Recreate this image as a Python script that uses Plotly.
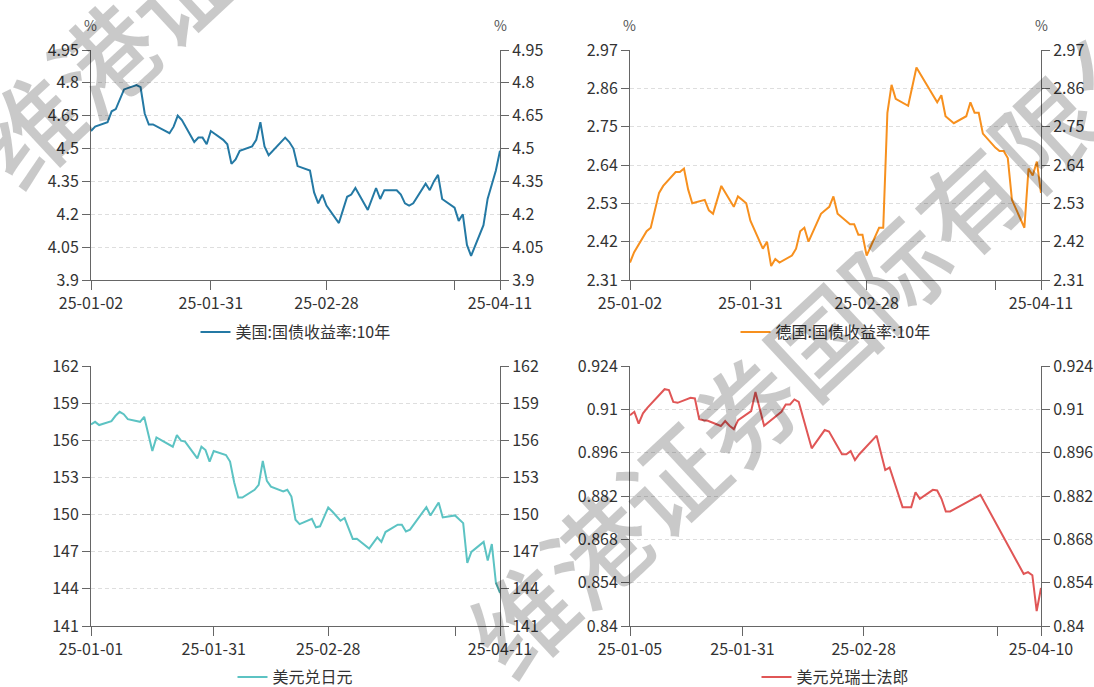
import plotly.graph_objects as go

W, H = 1094, 687

# ---------------- data ----------------
us_dates = ["2025-01-02", "2025-01-03", "2025-01-06", "2025-01-07", "2025-01-08", "2025-01-10",
            "2025-01-13", "2025-01-14", "2025-01-15", "2025-01-16", "2025-01-17", "2025-01-21",
            "2025-01-22", "2025-01-23", "2025-01-24", "2025-01-27", "2025-01-28", "2025-01-29",
            "2025-01-30", "2025-01-31", "2025-02-03", "2025-02-04", "2025-02-05", "2025-02-06",
            "2025-02-07", "2025-02-10", "2025-02-11", "2025-02-12", "2025-02-13", "2025-02-14",
            "2025-02-18", "2025-02-19", "2025-02-20", "2025-02-21", "2025-02-24", "2025-02-25",
            "2025-02-26", "2025-02-27", "2025-02-28", "2025-03-03", "2025-03-04", "2025-03-05",
            "2025-03-06", "2025-03-07", "2025-03-10", "2025-03-11", "2025-03-12", "2025-03-13",
            "2025-03-14", "2025-03-17", "2025-03-18", "2025-03-19", "2025-03-20", "2025-03-21",
            "2025-03-24", "2025-03-25", "2025-03-26", "2025-03-27", "2025-03-28", "2025-03-31",
            "2025-04-01", "2025-04-02", "2025-04-03", "2025-04-04", "2025-04-07", "2025-04-08",
            "2025-04-09", "2025-04-10", "2025-04-11"]
us_yield = [4.58, 4.60, 4.62, 4.67, 4.68, 4.77,
            4.79, 4.78, 4.66, 4.61, 4.61, 4.57,
            4.60, 4.65, 4.63, 4.53, 4.55, 4.55,
            4.52, 4.58, 4.54, 4.52, 4.43, 4.45,
            4.49, 4.51, 4.54, 4.62, 4.51, 4.47,
            4.55, 4.53, 4.50, 4.42, 4.40, 4.30,
            4.25, 4.29, 4.24, 4.16, 4.22, 4.28,
            4.29, 4.32, 4.22, 4.27, 4.32, 4.27,
            4.31, 4.31, 4.29, 4.25, 4.24, 4.25,
            4.34, 4.31, 4.35, 4.38, 4.27, 4.23,
            4.17, 4.20, 4.06, 4.01, 4.15, 4.27,
            4.34, 4.40, 4.49]

de_dates = ["2025-01-02", "2025-01-03", "2025-01-06", "2025-01-07", "2025-01-08", "2025-01-09",
            "2025-01-10", "2025-01-13", "2025-01-14", "2025-01-15", "2025-01-16", "2025-01-17",
            "2025-01-20", "2025-01-21", "2025-01-22", "2025-01-23", "2025-01-24", "2025-01-27",
            "2025-01-28", "2025-01-29", "2025-01-30", "2025-01-31", "2025-02-03", "2025-02-04",
            "2025-02-05", "2025-02-06", "2025-02-07", "2025-02-10", "2025-02-11", "2025-02-12",
            "2025-02-13", "2025-02-14", "2025-02-17", "2025-02-18", "2025-02-19", "2025-02-20",
            "2025-02-21", "2025-02-24", "2025-02-25", "2025-02-26", "2025-02-27", "2025-02-28",
            "2025-03-03", "2025-03-04", "2025-03-05", "2025-03-06", "2025-03-07", "2025-03-10",
            "2025-03-11", "2025-03-12", "2025-03-13", "2025-03-14", "2025-03-17", "2025-03-18",
            "2025-03-19", "2025-03-20", "2025-03-21", "2025-03-24", "2025-03-25", "2025-03-26",
            "2025-03-27", "2025-03-28", "2025-03-31", "2025-04-01", "2025-04-02", "2025-04-03",
            "2025-04-04", "2025-04-07", "2025-04-08", "2025-04-09", "2025-04-10", "2025-04-11"]
de_yield = [2.36, 2.39, 2.45, 2.46, 2.51, 2.56,
            2.58, 2.62, 2.62, 2.63, 2.57, 2.53,
            2.54, 2.51, 2.50, 2.54, 2.58, 2.52,
            2.55, 2.54, 2.53, 2.48, 2.40, 2.42,
            2.35, 2.37, 2.36, 2.38, 2.40, 2.45,
            2.46, 2.42, 2.50, 2.51, 2.52, 2.55,
            2.50, 2.47, 2.47, 2.44, 2.44, 2.38,
            2.46, 2.46, 2.79, 2.87, 2.83, 2.81,
            2.87, 2.92, 2.90, 2.88, 2.82, 2.84,
            2.78, 2.77, 2.76, 2.78, 2.82, 2.79,
            2.79, 2.73, 2.69, 2.68, 2.68, 2.66,
            2.54, 2.46, 2.63, 2.61, 2.65, 2.56]

jpy_dates = ["2025-01-01", "2025-01-02", "2025-01-03", "2025-01-06", "2025-01-07", "2025-01-08",
             "2025-01-09", "2025-01-10", "2025-01-13", "2025-01-14", "2025-01-16", "2025-01-17",
             "2025-01-21", "2025-01-22", "2025-01-23", "2025-01-24", "2025-01-27", "2025-01-28",
             "2025-01-29", "2025-01-30", "2025-01-31", "2025-02-03", "2025-02-04", "2025-02-05",
             "2025-02-06", "2025-02-07", "2025-02-10", "2025-02-11", "2025-02-12", "2025-02-13",
             "2025-02-14", "2025-02-17", "2025-02-18", "2025-02-19", "2025-02-20", "2025-02-21",
             "2025-02-24", "2025-02-25", "2025-02-26", "2025-02-28", "2025-03-01", "2025-03-03",
             "2025-03-04", "2025-03-06", "2025-03-07", "2025-03-10", "2025-03-12", "2025-03-13",
             "2025-03-14", "2025-03-17", "2025-03-18", "2025-03-19", "2025-03-20", "2025-03-24",
             "2025-03-25", "2025-03-27", "2025-03-28", "2025-03-31", "2025-04-02", "2025-04-03",
             "2025-04-04", "2025-04-07", "2025-04-08", "2025-04-09", "2025-04-10", "2025-04-11"]
jpy_rate = [157.28, 157.49, 157.23, 157.55, 157.98, 158.30,
            158.11, 157.71, 157.49, 157.90, 155.13, 156.23,
            155.48, 156.42, 155.97, 155.89, 154.54, 155.48,
            155.21, 154.28, 155.13, 154.81, 154.28, 152.61,
            151.38, 151.38, 152.00, 152.40, 154.33, 152.72,
            152.26, 151.86, 152.00, 151.46, 149.58, 149.23,
            149.66, 148.97, 149.05, 150.57, 150.25, 149.50,
            149.72, 148.03, 148.05, 147.25, 148.16, 147.79,
            148.59, 149.18, 149.18, 148.64, 148.78, 150.60,
            149.93, 150.98, 149.77, 149.93, 149.31, 146.10,
            146.98, 147.79, 146.28, 147.62, 144.49, 143.68]

chf_dates = ["2025-01-05", "2025-01-06", "2025-01-07", "2025-01-08", "2025-01-09", "2025-01-13",
             "2025-01-14", "2025-01-15", "2025-01-16", "2025-01-19", "2025-01-20", "2025-01-21",
             "2025-01-22", "2025-01-23", "2025-01-26", "2025-01-27", "2025-01-28", "2025-01-29",
             "2025-01-30", "2025-02-02", "2025-02-03", "2025-02-05", "2025-02-09", "2025-02-10",
             "2025-02-11", "2025-02-12", "2025-02-13", "2025-02-16", "2025-02-19", "2025-02-20",
             "2025-02-23", "2025-02-24", "2025-02-25", "2025-02-26", "2025-02-27", "2025-03-03",
             "2025-03-05", "2025-03-06", "2025-03-09", "2025-03-11", "2025-03-12", "2025-03-13",
             "2025-03-16", "2025-03-17", "2025-03-18", "2025-03-19", "2025-03-20", "2025-03-27",
             "2025-04-06", "2025-04-07", "2025-04-08", "2025-04-09", "2025-04-10"]
chf_rate = [0.9081, 0.9092, 0.9054, 0.9087, 0.9105, 0.9165,
            0.9162, 0.9124, 0.9121, 0.9137, 0.9135, 0.9068,
            0.9065, 0.9063, 0.9046, 0.9062, 0.9047, 0.9036,
            0.9065, 0.9094, 0.9156, 0.9047, 0.9092, 0.9116,
            0.9116, 0.9132, 0.9124, 0.8974, 0.9033, 0.9028,
            0.8955, 0.8955, 0.8965, 0.8936, 0.8955, 0.9015,
            0.8904, 0.8912, 0.8784, 0.8784, 0.8832, 0.8811,
            0.8840, 0.8838, 0.8811, 0.8770, 0.8770, 0.8824,
            0.8568, 0.8574, 0.8564, 0.8448, 0.8523]

us_yticks = [3.9, 4.05, 4.2, 4.35, 4.5, 4.65, 4.8, 4.95]
de_yticks = [2.31, 2.42, 2.53, 2.64, 2.75, 2.86, 2.97]
jpy_yticks = [141, 144, 147, 150, 153, 156, 159, 162]
chf_yticks = [0.84, 0.854, 0.868, 0.882, 0.896, 0.91, 0.924]

us_xticks = ["2025-01-02", "2025-01-31", "2025-02-28", "2025-03-31", "2025-04-11"]
us_xlabels = ["25-01-02", "25-01-31", "25-02-28", "", "25-04-11"]
de_xticks = ["2025-01-02", "2025-01-31", "2025-02-28", "2025-03-31", "2025-04-11"]
de_xlabels = ["25-01-02", "25-01-31", "25-02-28", "", "25-04-11"]
jpy_xticks = ["2025-01-01", "2025-01-31", "2025-02-28", "2025-03-31", "2025-04-11"]
jpy_xlabels = ["25-01-01", "25-01-31", "25-02-28", "", "25-04-11"]
chf_xticks = ["2025-01-05", "2025-01-31", "2025-02-28", "2025-03-31", "2025-04-10"]
chf_xlabels = ["25-01-05", "25-01-31", "25-02-28", "", "25-04-10"]

series_names = ["美国:国债收益率:10年", "德国:国债收益率:10年", "美元兑日元", "美元兑瑞士法郎"]
series_colors = ["#2479a4", "#f7901e", "#5cc3c3", "#e05656"]
unit_labels = ["%", "%", "", ""]
watermark = "维港证券国际有限公司"

# ---------------- layout helpers ----------------
FONT = "Noto Sans CJK SC"
AXIS_COLOR = "#666666"
TEXT_COLOR = "#333333"
GRID_COLOR = "#dedede"

# plot-area boxes in pixels: (left, right, top, bottom)
boxes = [(91, 500, 50, 280), (630, 1041, 50, 280),
         (91, 500, 366, 626), (630, 1041, 366, 626)]
legend_y_px = [332, 332, 677, 677]

panels = [
    (us_dates, us_yield, us_yticks, us_xticks, us_xlabels),
    (de_dates, de_yield, de_yticks, de_xticks, de_xlabels),
    (jpy_dates, jpy_rate, jpy_yticks, jpy_xticks, jpy_xlabels),
    (chf_dates, chf_rate, chf_yticks, chf_xticks, chf_xlabels),
]


def px_x(v):
    return v / W


def px_y(v):
    return 1 - v / H


fig = go.Figure()
layout = dict(
    width=W, height=H,
    margin=dict(l=0, r=0, t=0, b=0, autoexpand=False),
    paper_bgcolor="white", plot_bgcolor="white",
    font=dict(family=FONT, size=16, color=TEXT_COLOR),
    showlegend=True,
    annotations=[],
)

for i, (dates, vals, yticks, xticks, xlabels) in enumerate(panels):
    n = i + 1
    left, right, top, bottom = boxes[i]
    xname = "xaxis" if n == 1 else f"xaxis{n}"
    xref = "x" if n == 1 else f"x{n}"
    yl = 2 * i + 1
    yr = 2 * i + 2
    ylname = "yaxis" if yl == 1 else f"yaxis{yl}"
    ylref = "y" if yl == 1 else f"y{yl}"
    yrname = f"yaxis{yr}"
    yrref = f"y{yr}"
    legname = "legend" if n == 1 else f"legend{n}"

    fig.add_trace(go.Scatter(
        x=dates, y=vals, mode="lines", name=series_names[i],
        line=dict(color=series_colors[i], width=2),
        xaxis=xref, yaxis=ylref, legend=legname,
    ))
    # mirror copy on the right-hand axis so that axis is rendered
    fig.add_trace(go.Scatter(
        x=dates, y=vals, mode="lines", showlegend=False, hoverinfo="skip",
        line=dict(color="rgba(0,0,0,0)", width=0),
        xaxis=xref, yaxis=yrref,
    ))

    xdom = [px_x(left), px_x(right)]
    ydom = [px_y(bottom), px_y(top)]
    yrange = [yticks[0], yticks[-1]]

    layout[xname] = dict(
        domain=xdom, anchor=ylref, type="date",
        range=[xticks[0], xticks[-1]],
        tickmode="array", tickvals=xticks, ticktext=xlabels,
        showline=True, linecolor=AXIS_COLOR, linewidth=1,
        ticks="outside", ticklen=9, tickcolor=AXIS_COLOR,
        showgrid=False, zeroline=False, automargin=False,
        tickfont=dict(size=16, color=TEXT_COLOR),
    )
    common_y = dict(
        domain=ydom, anchor=xref, range=yrange,
        tickmode="array", tickvals=yticks,
        showline=True, linecolor=AXIS_COLOR, linewidth=1,
        ticks="outside", ticklen=8, tickcolor=AXIS_COLOR,
        zeroline=False, automargin=False,
        tickfont=dict(size=16, color=TEXT_COLOR),
    )
    layout[ylname] = dict(common_y, side="left", showgrid=True,
                          gridcolor=GRID_COLOR, griddash="4px,3px", gridwidth=1)
    layout[yrname] = dict(common_y, side="right", overlaying=ylref, showgrid=False)

    layout[legname] = dict(
        x=(xdom[0] + xdom[1]) / 2, xanchor="center",
        y=px_y(legend_y_px[i]), yanchor="middle",
        orientation="h", bgcolor="rgba(0,0,0,0)",
        font=dict(family=FONT, size=16, color=TEXT_COLOR),
    )

    if unit_labels[i]:
        for xpx in (left - 1, right):
            layout["annotations"].append(dict(
                text=unit_labels[i], x=px_x(xpx), y=px_y(25),
                xref="paper", yref="paper", showarrow=False,
                xanchor="center", yanchor="middle",
                font=dict(family=FONT, size=14, color="#555555"),
            ))

# diagonal watermark, tiled twice
for cx, cy in ((362, -187), (855, 303)):
    layout["annotations"].append(dict(
        text=watermark, x=px_x(cx), y=px_y(cy),
        xref="paper", yref="paper", showarrow=False,
        xanchor="center", yanchor="middle", textangle=-43,
        font=dict(family=FONT, size=102, weight=500, color="rgba(0,0,0,0.21)"),
    ))

fig.update_layout(**layout)
fig.write_html("out.html")
